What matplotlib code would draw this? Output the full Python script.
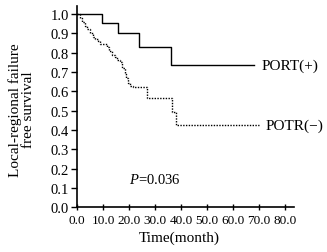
import matplotlib
matplotlib.use("Agg")
import matplotlib.pyplot as plt
from matplotlib.ticker import FormatStrFormatter

# PORT(+) group: step times (months) and survival after each drop
port_t = [0, 9.5, 15.8, 23.8, 36.0, 68.0]
port_s = [1.0, 0.955, 0.90, 0.827, 0.737, 0.737]

# POTR(-) group
potr_t = [0, 1.0, 2.0, 3.0, 4.0, 5.0, 6.0, 7.0, 8.0, 9.0, 11.5, 12.5, 13.5,
          14.5, 15.5, 16.5, 17.5, 18.5, 19.0, 19.5, 20.5, 21.5, 27.0, 36.5,
          38.0, 70.0]
potr_s = [1.0, 0.98, 0.96, 0.94, 0.92, 0.90, 0.88, 0.87, 0.86, 0.845, 0.83,
          0.81, 0.79, 0.775, 0.76, 0.75, 0.72, 0.69, 0.67, 0.645, 0.63, 0.62,
          0.565, 0.495, 0.426, 0.426]

x_ticks = [0, 10, 20, 30, 40, 50, 60, 70, 80]
y_ticks = [0.0, 0.1, 0.2, 0.3, 0.4, 0.5, 0.6, 0.7, 0.8, 0.9, 1.0]

plt.rcParams["font.family"] = "Liberation Serif"
plt.rcParams["mathtext.fontset"] = "custom"
plt.rcParams["mathtext.it"] = "Liberation Serif:italic"
plt.rcParams["mathtext.rm"] = "Liberation Serif"

fig = plt.figure(figsize=(3.27, 2.53), dpi=100)
ax = fig.add_axes([0.2355, 0.1767, 0.6635, 0.7953])

ax.step(port_t, port_s, where="post", color="black", lw=1.0)
ax.step(potr_t, potr_s, where="post", color="black", lw=1.0, ls=(0, (1, 1)))

ax.set_xlim(0, 83.5)
ax.set_ylim(0, 1.041)
ax.set_xticks(x_ticks)
ax.set_yticks(y_ticks)
ax.xaxis.set_major_formatter(FormatStrFormatter("%.1f"))
ax.yaxis.set_major_formatter(FormatStrFormatter("%.1f"))

for side in ["top", "right"]:
    ax.spines[side].set_visible(False)
for side in ["left", "bottom"]:
    ax.spines[side].set_linewidth(1.2)

ax.tick_params(axis="x", direction="inout", length=5, width=1, pad=2, labelsize=9.5)
ax.tick_params(axis="y", direction="out", length=4, width=1, pad=2, labelsize=10.5)

ax.text(71.2, 0.737, "PORT(+)", fontsize=11, va="center", ha="left", clip_on=False)
ax.text(72.7, 0.426, "POTR(\u2212)", fontsize=11, va="center", ha="left", clip_on=False)
ax.text(30, 0.146, r"$\mathit{P}$=0.036", fontsize=10.5, va="center", ha="center")

fig.text(179 / 327, 1 - 238 / 253, "Time(month)", fontsize=11, ha="center", va="center")
fig.text(22 / 327, 1 - 110 / 253, "Local-regional failure\nfree survival", fontsize=11,
         rotation=90, ha="center", va="center", multialignment="center", linespacing=1.0)

fig.savefig("out.png", dpi=100)
